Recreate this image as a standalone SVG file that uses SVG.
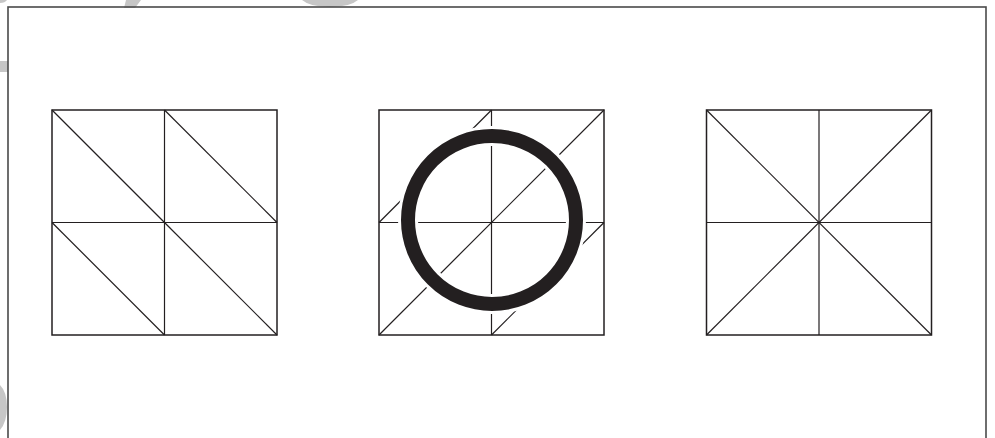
<svg xmlns="http://www.w3.org/2000/svg" width="995" height="438" viewBox="0 0 995 438">
<style>
.wm{fill:#c6c6c6;stroke:none}
.frame{fill:none;stroke:#4a4a4a;stroke-width:1.6}
.box{fill:none;stroke:#231f20;stroke-width:1.5}
.ln{fill:none;stroke:#231f20;stroke-width:1.2}
</style>
<rect width="995" height="438" fill="#ffffff"/>
<g id="watermark">
<path class="wm" d="M0,0 H7 Q5,3 0,3 Z"/>
<path class="wm" d="M126,0 H141 L135,8 H124 Z"/>
<path class="wm" d="M0,61 H8 V72 H0 Z"/>
<path class="wm" d="M302,0 H358 Q350,7 330,7 Q310,7 302,0 Z"/>
<path class="wm" d="M0,385 Q7,392 7,407 Q7,422 0,430 Z"/>
</g>
<rect class="frame" x="8" y="7" width="978" height="445"/>
<g id="grid-left">
<rect class="box" x="52" y="110" width="225" height="225"/>
<line class="ln" x1="164.5" y1="110" x2="164.5" y2="335"/>
<line class="ln" x1="52" y1="222.5" x2="277" y2="222.5"/>
<line class="ln" x1="52" y1="110" x2="164.5" y2="222.5"/>
<line class="ln" x1="164.5" y1="110" x2="277" y2="222.5"/>
<line class="ln" x1="52" y1="222.5" x2="164.5" y2="335"/>
<line class="ln" x1="164.5" y1="222.5" x2="277" y2="335"/>
</g>
<g id="grid-middle">
<rect class="box" x="379" y="110" width="225" height="225"/>
<line class="ln" x1="491.5" y1="110" x2="491.5" y2="335"/>
<line class="ln" x1="379" y1="222.5" x2="604" y2="222.5"/>
<line class="ln" x1="379" y1="335" x2="604" y2="110"/>
<line class="ln" x1="379" y1="222.5" x2="491.5" y2="110"/>
<line class="ln" x1="491.5" y1="335" x2="604" y2="222.5"/>
<circle cx="492" cy="220" r="84" fill="none" stroke="#ffffff" stroke-width="20"/>
<circle cx="492" cy="220" r="84" fill="none" stroke="#231f20" stroke-width="14"/>
</g>
<g id="grid-right">
<rect class="box" x="706.5" y="110" width="225" height="225"/>
<line class="ln" x1="819" y1="110" x2="819" y2="335"/>
<line class="ln" x1="706.5" y1="222.5" x2="931.5" y2="222.5"/>
<line class="ln" x1="706.5" y1="110" x2="931.5" y2="335"/>
<line class="ln" x1="706.5" y1="335" x2="931.5" y2="110"/>
</g>
</svg>
